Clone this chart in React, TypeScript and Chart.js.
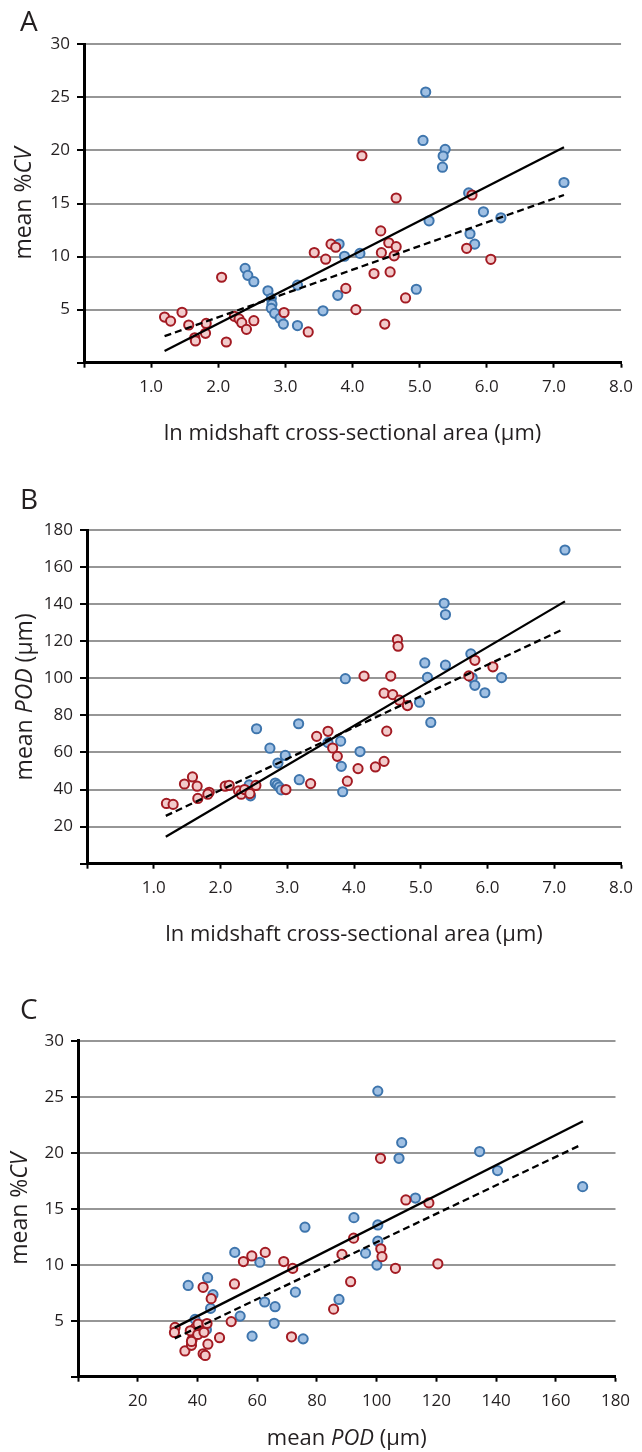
import React, { useEffect, useRef } from 'react';
import { Chart, registerables } from 'chart.js';

Chart.register(...registerables);

// ---------- Panel A : ln midshaft cross-sectional area vs mean %CV ----------
const aBlueX = [5.09, 5.05, 5.38, 5.35, 5.34, 7.15, 5.73, 5.95, 6.21, 5.14, 5.75, 5.82, 3.8, 3.88, 4.11, 2.4, 2.44, 2.53, 3.18, 2.74, 2.79, 3.78, 4.95, 3.56, 2.8, 2.79, 2.84, 2.92, 2.97, 3.18];
const aBlueY = [25.5, 20.94, 20.1, 19.47, 18.42, 16.98, 16.0, 14.22, 13.65, 13.37, 12.15, 11.17, 11.18, 10.03, 10.3, 8.89, 8.23, 7.63, 7.31, 6.78, 6.06, 6.35, 6.92, 4.89, 5.5, 5.12, 4.65, 4.18, 3.64, 3.5];
const aRedX = [1.2, 1.29, 1.46, 1.56, 1.65, 1.66, 1.82, 1.81, 2.05, 2.12, 2.24, 2.31, 2.35, 2.42, 2.53, 2.98, 3.34, 3.43, 3.6, 3.68, 3.75, 3.9, 4.05, 4.14, 4.32, 4.42, 4.43, 4.48, 4.54, 4.56, 4.62, 4.65, 4.65, 4.79, 5.7, 5.78, 6.06];
const aRedY = [4.3, 3.92, 4.75, 3.55, 2.35, 2.05, 3.7, 2.77, 8.05, 1.95, 4.37, 4.12, 3.77, 3.14, 3.96, 4.73, 2.9, 10.38, 9.75, 11.17, 10.88, 7.0, 5.0, 19.5, 8.4, 12.42, 10.37, 3.64, 11.3, 8.55, 10.07, 10.93, 15.52, 6.1, 10.78, 15.8, 9.74];
const aSolidX = [1.2, 7.15];
const aSolidY = [1.1, 20.3];
const aDashX = [1.2, 7.15];
const aDashY = [2.5, 15.8];

// ---------- Panel B : ln midshaft cross-sectional area vs mean POD ----------
const bBlueX = [7.16, 5.35, 5.37, 5.06, 5.37, 5.75, 5.1, 3.87, 5.77, 5.81, 5.96, 6.21, 4.98, 5.15, 2.54, 3.17, 2.74, 2.97, 2.86, 3.8, 3.61, 4.09, 3.81, 3.83, 3.18, 2.82, 2.85, 2.88, 2.91, 2.45, 2.43];
const bBlueY = [169.2, 140.5, 134.4, 108.3, 107.1, 113.2, 100.5, 99.8, 100.3, 96.2, 92.2, 100.4, 87.1, 76.2, 72.8, 75.5, 62.3, 58.4, 54.3, 66.1, 65.3, 60.5, 52.5, 38.8, 45.3, 43.5, 42.5, 41.3, 39.8, 36.6, 42.5];
const bRedX = [1.19, 1.29, 1.46, 1.58, 1.65, 1.66, 1.83, 1.81, 2.07, 2.13, 2.27, 2.31, 2.36, 2.44, 2.53, 2.98, 3.35, 3.44, 3.61, 3.68, 3.75, 3.9, 4.06, 4.15, 4.32, 4.45, 4.45, 4.49, 4.55, 4.58, 4.65, 4.66, 4.68, 4.8, 5.72, 5.81, 6.08];
const bRedY = [32.5, 32.0, 43.0, 46.8, 41.8, 35.2, 38.5, 37.5, 41.8, 42.3, 39.3, 37.5, 40.0, 37.8, 42.2, 40.0, 43.2, 68.7, 71.4, 62.4, 57.9, 44.5, 51.3, 101.2, 52.2, 92.0, 55.2, 71.5, 101.2, 91.2, 120.9, 117.3, 88.2, 85.3, 101.3, 109.7, 106.2];
const bSolidX = [1.18, 7.16];
const bSolidY = [14.5, 141.5];
const bDashX = [1.18, 7.13];
const bDashY = [25.8, 126.4];

// ---------- Panel C : mean POD vs mean %CV ----------
const cBlueX = [100.4, 108.4, 107.5, 134.5, 140.5, 169, 113, 92.4, 100.4, 100.4, 96.3, 100.1, 87.4, 76, 72.8, 66, 62.5, 60.9, 52.5, 54.3, 65.7, 58.3, 75.4, 36.9, 43.4, 45.2, 44.4, 39.2, 41.5, 43.0];
const cBlueY = [25.5, 20.9, 19.5, 20.1, 18.4, 16.97, 15.95, 14.2, 13.55, 12.1, 11.03, 9.97, 6.9, 13.35, 7.55, 6.25, 6.67, 10.22, 11.1, 5.41, 4.77, 3.62, 3.38, 8.15, 8.84, 7.33, 6.1, 5.12, 4.6, 4.2];
const cRedX = [32.5, 32.3, 35.8, 38.2, 38.0, 41.9, 42.6, 43.5, 39.3, 37.6, 40.1, 38.0, 42.2, 40.2, 43.2, 41.9, 44.6, 47.4, 51.3, 52.4, 55.4, 58.2, 62.7, 68.9, 71.9, 71.5, 85.6, 88.4, 91.3, 92.3, 101.3, 101.4, 101.8, 106.3, 109.8, 117.5, 120.5];
const cRedY = [4.4, 3.95, 2.3, 3.3, 2.8, 2.05, 1.9, 2.9, 4.35, 4.1, 3.77, 3.15, 3.96, 4.7, 4.75, 7.98, 6.97, 3.48, 4.92, 8.28, 10.28, 10.78, 11.1, 10.28, 9.67, 3.56, 6.03, 10.92, 8.48, 12.37, 19.5, 11.42, 10.72, 9.68, 15.78, 15.52, 10.08];
const cSolidX = [32.4, 169.1];
const cSolidY = [4.38, 22.8];
const cDashX = [32.4, 167.8];
const cDashY = [3.42, 20.62];

// ---------- Tick values ----------
const areaTicks = [0, 1, 2, 3, 4, 5, 6, 7, 8];
const cvTicks = [0, 5, 10, 15, 20, 25, 30];
const podTicks = [0, 20, 40, 60, 80, 100, 120, 140, 160, 180];

// ---------- Styles ----------
const FONT = '"Open Sans", "Noto Sans", "DejaVu Sans", sans-serif';
const TEXT = '#231f20';
const BLUE_FILL = '#a0c0e3';
const BLUE_EDGE = '#3e75ad';
const RED_FILL = '#f2cbcb';
const RED_EDGE = '#a31b23';
const GRID = '#969696';
const W = 642;
const X_AXIS_H = 40;

type Seg = { t: string; i?: boolean };
type Pt = { x: number; y: number };

const zip = (xs: number[], ys: number[]): Pt[] => xs.map((x, k) => ({ x, y: ys[k] }));

interface Panel {
  letter: string;
  top: number;
  height: number;
  left: number;
  right: number;
  plotTop: number;
  plotBottom: number;
  xMin: number;
  xMax: number;
  yMin: number;
  yMax: number;
  xTicks: number[];
  yTicks: number[];
  xFmt: (v: number) => string;
  blue: Pt[];
  red: Pt[];
  solid: Pt[];
  dash: Pt[];
  xTitle: Seg[];
  yTitle: Seg[];
  letterY: number;
  xTitleY: number;
  yTitleX: number;
}

const fmt1 = (v: number) => (v === 0 ? '' : v.toFixed(1));
const fmt0 = (v: number) => (v === 0 ? '' : String(v));

const panels: Panel[] = [
  {
    letter: 'A', top: 0, height: 460,
    left: 84, right: 626, plotTop: 44.3, plotBottom: 362.7,
    xMin: 0, xMax: 8, yMin: 0, yMax: 30,
    xTicks: areaTicks, yTicks: cvTicks, xFmt: fmt1,
    blue: zip(aBlueX, aBlueY), red: zip(aRedX, aRedY),
    solid: zip(aSolidX, aSolidY), dash: zip(aDashX, aDashY),
    xTitle: [{ t: 'ln midshaft cross-sectional area (\u00b5m)' }],
    yTitle: [{ t: 'mean %' }, { t: 'CV', i: true }],
    letterY: 23, xTitleY: 434, yTitleX: 24,
  },
  {
    letter: 'B', top: 460, height: 500,
    left: 87, right: 626, plotTop: 70, plotBottom: 403.7,
    xMin: 0, xMax: 8, yMin: 0, yMax: 180,
    xTicks: areaTicks, yTicks: podTicks, xFmt: fmt1,
    blue: zip(bBlueX, bBlueY), red: zip(bRedX, bRedY),
    solid: zip(bSolidX, bSolidY), dash: zip(bDashX, bDashY),
    xTitle: [{ t: 'ln midshaft cross-sectional area (\u00b5m)' }],
    yTitle: [{ t: 'mean ' }, { t: 'POD', i: true }, { t: ' (\u00b5m)' }],
    letterY: 41, xTitleY: 475, yTitleX: 25,
  },
  {
    letter: 'C', top: 960, height: 492,
    left: 78, right: 615.5, plotTop: 80.7, plotBottom: 416.7,
    xMin: 0, xMax: 180, yMin: 0, yMax: 30,
    xTicks: podTicks, yTicks: cvTicks, xFmt: fmt0,
    blue: zip(cBlueX, cBlueY), red: zip(cRedX, cRedY),
    solid: zip(cSolidX, cSolidY), dash: zip(cDashX, cDashY),
    xTitle: [{ t: 'mean ' }, { t: 'POD', i: true }, { t: ' (\u00b5m)' }],
    yTitle: [{ t: 'mean %' }, { t: 'CV', i: true }],
    letterY: 51.5, xTitleY: 479, yTitleX: 20,
  },
];

function drawRich(ctx: CanvasRenderingContext2D, segs: Seg[], cx: number, cy: number, size: number) {
  const fonts = segs.map((s) => `${s.i ? 'italic ' : ''}${size}px ${FONT}`);
  const widths = segs.map((s, k) => {
    ctx.font = fonts[k];
    return ctx.measureText(s.t).width;
  });
  const total = widths.reduce((a, b) => a + b, 0);
  let x = cx - total / 2;
  ctx.textBaseline = 'middle';
  ctx.textAlign = 'left';
  segs.forEach((s, k) => {
    ctx.font = fonts[k];
    ctx.fillText(s.t, x, cy);
    x += widths[k];
  });
}

function makeTitlePlugin(p: Panel) {
  return {
    id: 'panelTitles' + p.letter,
    afterDraw(chart: any) {
      const ctx: CanvasRenderingContext2D = chart.ctx;
      const a = chart.chartArea;
      ctx.save();
      ctx.fillStyle = TEXT;
      ctx.font = `28px ${FONT}`;
      ctx.textBaseline = 'middle';
      ctx.textAlign = 'left';
      ctx.fillText(p.letter, 20, p.letterY);
      drawRich(ctx, p.xTitle, (a.left + a.right) / 2, p.xTitleY, 22);
      ctx.translate(p.yTitleX, (a.top + a.bottom) / 2);
      ctx.rotate(-Math.PI / 2);
      drawRich(ctx, p.yTitle, 0, 0, 23);
      ctx.restore();
    },
  };
}

function makeConfig(p: Panel): any {
  const pointStyle = (fill: string, edge: string) => ({
    pointRadius: 4.6,
    pointBorderWidth: 2,
    pointBackgroundColor: fill,
    pointBorderColor: edge,
    backgroundColor: fill,
    borderColor: edge,
    showLine: false,
  });
  return {
    type: 'scatter',
    data: {
      datasets: [
        { data: p.solid, showLine: true, borderColor: '#000', borderWidth: 2.3, pointRadius: 0, fill: false, order: 0 },
        { data: p.dash, showLine: true, borderColor: '#000', borderWidth: 2.3, borderDash: [7, 4], pointRadius: 0, fill: false, order: 1 },
        { data: p.red, ...pointStyle(RED_FILL, RED_EDGE), order: 2 },
        { data: p.blue, ...pointStyle(BLUE_FILL, BLUE_EDGE), order: 3 },
      ],
    },
    options: {
      animation: false,
      responsive: false,
      maintainAspectRatio: false,
      events: [],
      layout: {
        padding: {
          left: 0,
          right: W - p.right,
          top: p.plotTop,
          bottom: p.height - p.plotBottom - X_AXIS_H,
        },
      },
      plugins: { legend: { display: false }, tooltip: { enabled: false }, title: { display: false } },
      scales: {
        x: {
          type: 'linear',
          min: p.xMin,
          max: p.xMax,
          afterBuildTicks: (s: any) => {
            s.ticks = p.xTicks.map((v) => ({ value: v }));
          },
          afterFit: (s: any) => {
            s.height = X_AXIS_H;
          },
          grid: { drawOnChartArea: false, drawTicks: true, tickLength: 5, tickWidth: 2, tickColor: '#000' },
          border: { display: true, color: '#000', width: 3 },
          ticks: {
            autoSkip: false,
            maxRotation: 0,
            padding: 9,
            color: TEXT,
            font: { family: FONT, size: 17 },
            callback: (v: number) => p.xFmt(Number(v)),
          },
        },
        y: {
          type: 'linear',
          min: p.yMin,
          max: p.yMax,
          afterBuildTicks: (s: any) => {
            s.ticks = p.yTicks.map((v) => ({ value: v }));
          },
          afterFit: (s: any) => {
            s.width = p.left;
          },
          grid: {
            color: (c: any) => (c.tick && c.tick.value === 0 ? 'rgba(0,0,0,0)' : GRID),
            lineWidth: 2,
            drawTicks: true,
            tickLength: 7,
            tickWidth: 2,
            tickColor: '#000',
          },
          border: { display: true, color: '#000', width: 3 },
          ticks: {
            padding: 7,
            color: TEXT,
            font: { family: FONT, size: 17 },
            callback: (v: number) => fmt0(Number(v)),
          },
        },
      },
    },
    plugins: [makeTitlePlugin(p)],
  };
}

function PanelChart({ p }: { p: Panel }) {
  const ref = useRef<HTMLCanvasElement | null>(null);
  useEffect(() => {
    if (!ref.current) return;
    const chart = new Chart(ref.current, makeConfig(p));
    return () => chart.destroy();
  }, [p]);
  return (
    <canvas
      ref={ref}
      width={W}
      height={p.height}
      style={{ position: 'absolute', left: 0, top: p.top, width: W, height: p.height, display: 'block' }}
    />
  );
}

export default function App() {
  useEffect(() => {
    document.body.style.margin = '0';
    document.body.style.background = '#ffffff';
  }, []);
  return (
    <div style={{ position: 'absolute', left: 0, top: 0, width: W, height: 1452, background: '#ffffff', overflow: 'hidden' }}>
      {panels.map((p) => (
        <PanelChart key={p.letter} p={p} />
      ))}
    </div>
  );
}
